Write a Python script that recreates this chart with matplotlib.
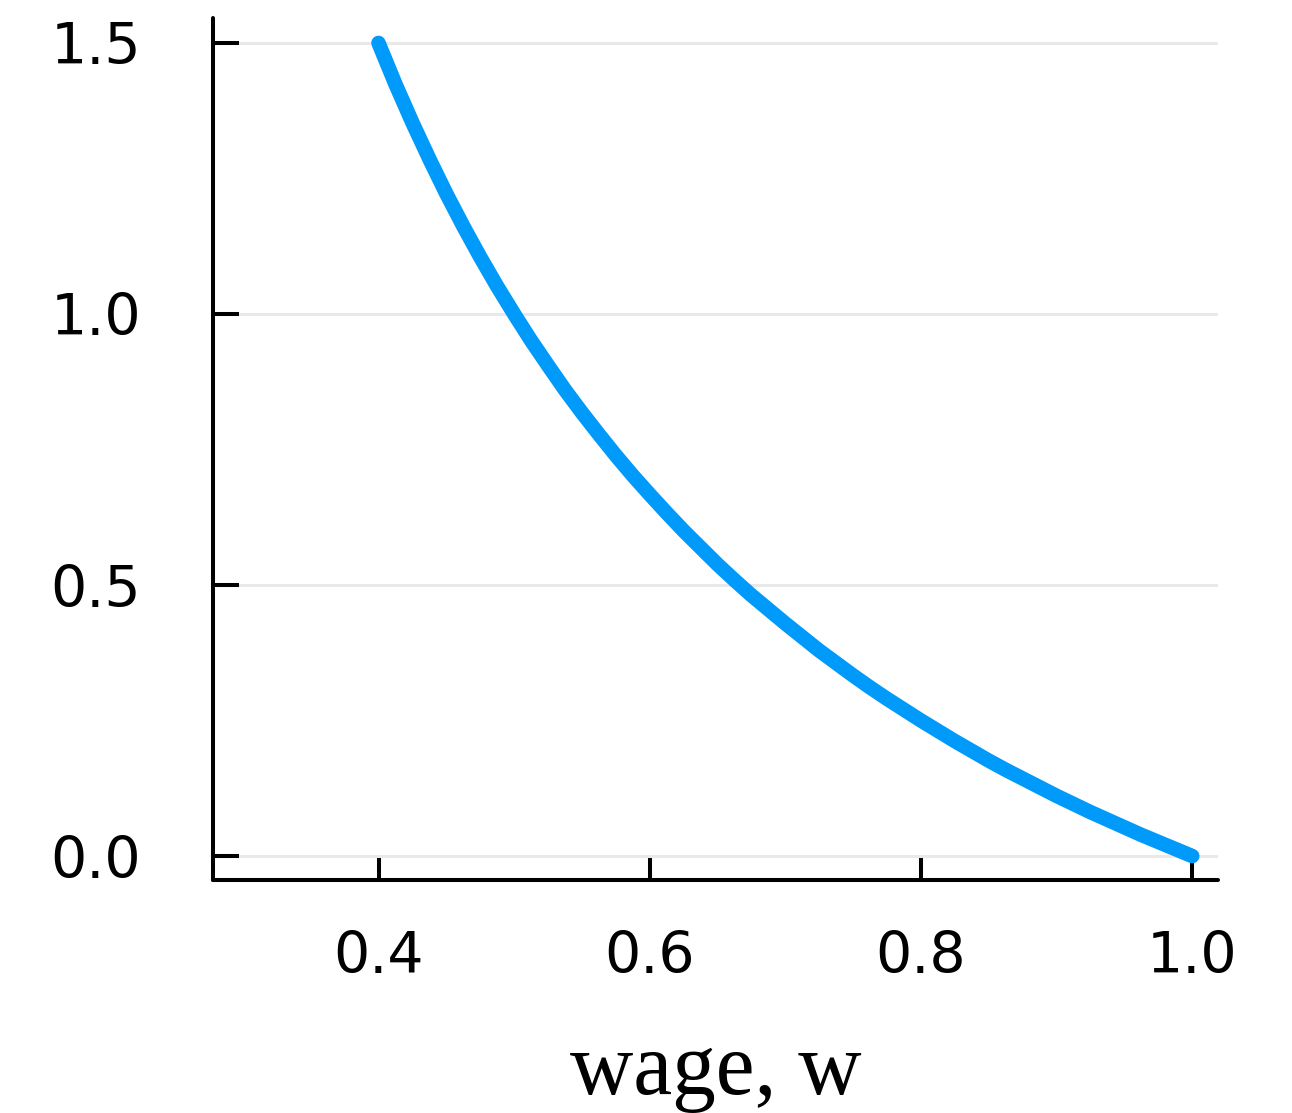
import matplotlib
matplotlib.use("Agg")
import matplotlib.pyplot as plt

wage = [0.4000, 0.4125, 0.4250, 0.4375, 0.4500, 0.4625, 0.4750, 0.4875,
        0.5000, 0.5125, 0.5250, 0.5375, 0.5500, 0.5625, 0.5750, 0.5875,
        0.6000, 0.6125, 0.6250, 0.6375, 0.6500, 0.6625, 0.6750, 0.6875,
        0.7000, 0.7125, 0.7250, 0.7375, 0.7500, 0.7625, 0.7750, 0.7875,
        0.8000, 0.8125, 0.8250, 0.8375, 0.8500, 0.8625, 0.8750, 0.8875,
        0.9000, 0.9125, 0.9250, 0.9375, 0.9500, 0.9625, 0.9750, 0.9875,
        1.0000]
value = [1.500, 1.424, 1.353, 1.286, 1.222, 1.162, 1.105, 1.051,
         1.000, 0.951, 0.905, 0.860, 0.818, 0.778, 0.739, 0.702,
         0.667, 0.633, 0.600, 0.569, 0.538, 0.509, 0.481, 0.455,
         0.429, 0.404, 0.379, 0.356, 0.333, 0.311, 0.290, 0.270,
         0.250, 0.231, 0.212, 0.194, 0.176, 0.159, 0.143, 0.127,
         0.111, 0.096, 0.081, 0.067, 0.053, 0.039, 0.026, 0.013,
         0.000]
xticks = [0.4, 0.6, 0.8, 1.0]
yticks = [0.0, 0.5, 1.0, 1.5]
xlabel = "wage, w"

fig = plt.figure(figsize=(12.92, 11.13), dpi=100)
ax = fig.add_axes([0.1649, 0.2093, 0.9427 - 0.1649, 0.9838 - 0.2093])

ax.plot(wage, value, color="#009AFA", lw=10.5, solid_capstyle="round",
        solid_joinstyle="round", zorder=3)

ax.set_xlim(0.278, 1.019)
ax.set_ylim(-0.0443, 1.546)
ax.set_xticks(xticks)
ax.set_yticks(yticks)
ax.set_xticklabels([f"{t:.1f}" for t in xticks])
ax.set_yticklabels([f"{t:.1f}" for t in yticks])

for s in ["top", "right"]:
    ax.spines[s].set_visible(False)
for s in ["left", "bottom"]:
    ax.spines[s].set_linewidth(2.9)
    ax.spines[s].set_capstyle("round")
    ax.spines[s].set_zorder(5)

ax.yaxis.grid(True, color="#e9e9e9", lw=2.2, zorder=0)
ax.xaxis.grid(False)
ax.set_axisbelow(True)

ax.xaxis.set_tick_params(which="major", direction="in", length=18, width=2.9,
                         labelsize=41, color="black", pad=36)
ax.yaxis.set_tick_params(which="major", direction="in", length=19, width=2.9,
                         labelsize=41, color="black", pad=52)
for t in ax.xaxis.get_major_ticks() + ax.yaxis.get_major_ticks():
    t.tick1line.set_zorder(4)

ax.set_xlabel(xlabel, fontfamily="Liberation Serif", fontsize=63, labelpad=34)

fig.savefig("out.png", dpi=100)
